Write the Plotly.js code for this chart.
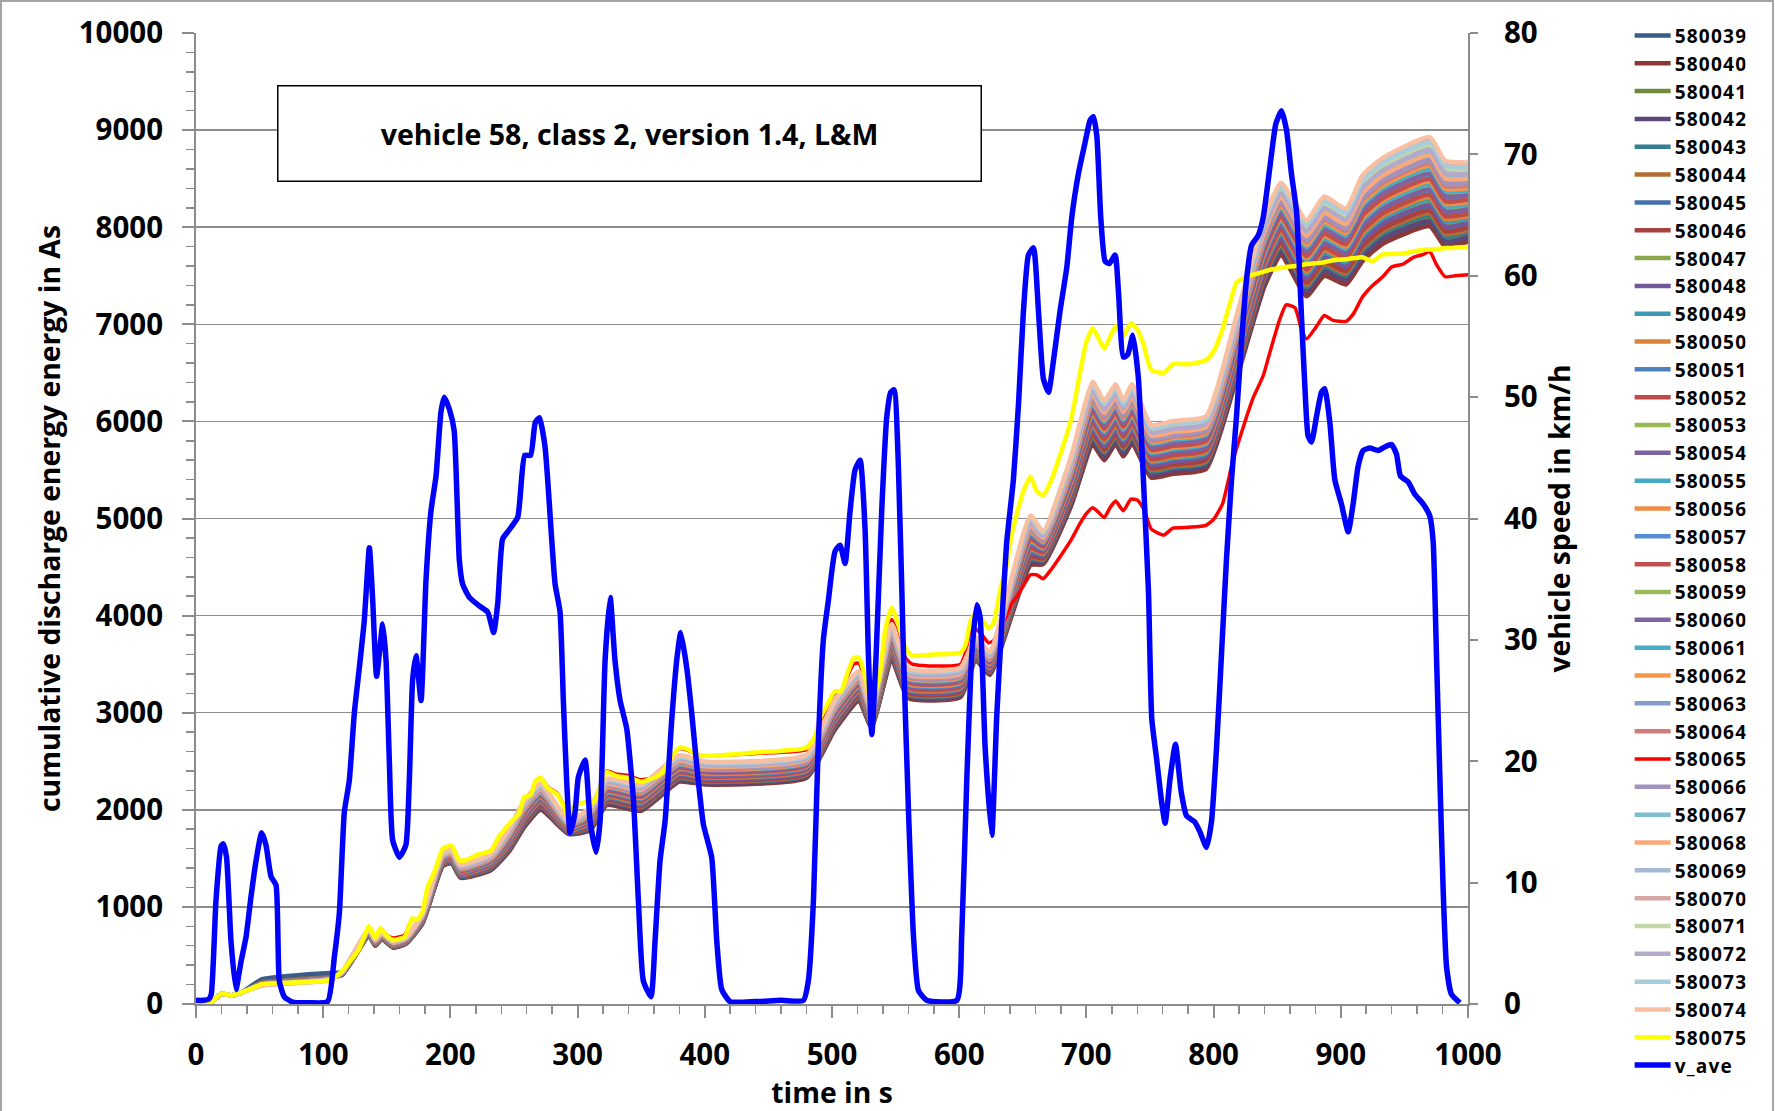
<!DOCTYPE html>
<html><head><meta charset="utf-8">
<script src="https://cdn.plot.ly/plotly-3.0.1.min.js"></script>
<style>
html,body{margin:0;padding:0;background:#fff}
#wrap{position:relative;width:1775px;height:1111px}
#chart{width:1775px;height:1111px}
#frame{position:absolute;left:0;top:0;width:1774px;height:1111px;border-left:2px solid #a6a6a6;border-top:2px solid #a6a6a6;border-right:2px solid #a6a6a6;box-sizing:border-box;pointer-events:none}
#chart .legend .legendtext{letter-spacing:1.2px}
#chart .legend .legendlines path{d:path("M-13,0h49")}
</style>
</head><body>
<div id="wrap"><div id="chart"></div><div id="frame"></div></div>
<script>
// time grid shared by the 35 band series (s)
const tBand = [0,10,20,28,36,52,105,115,136,141,146,155,165,178,194,201,208,232,246,258,271,293,310,323,350,380,400,480,502,521,531,547,560,601,613,624,656,666,688,705,714,723,729,736,751,768,794,818,840,853,873,887,904,917,933,970,982,1000];

// cumulative discharge energy in As
const e580039 = [0,0,105,90,120,255,320,330,702,602,672,582,622,833,1424,1454,1304,1385,1577,1828,2008,1754,1797,2058,1998,2298,2267,2337,2829,3129,2856,3551,3159,3169,3547,3397,4535,4540,5145,5779,5618,5788,5657,5788,5436,5476,5526,6459,7411,7732,7313,7524,7433,7676,7856,8037,7826,7874];
const e580040 = [0,0,105,90,120,225,280,300,700,600,670,580,620,830,1420,1450,1300,1380,1570,1820,2000,1750,1790,2050,1990,2290,2260,2330,2820,3120,2850,3540,3150,3160,3540,3390,4520,4530,5130,5760,5600,5770,5640,5770,5420,5460,5510,6440,7390,7710,7290,7500,7410,7650,7830,8010,7800,7850];
const e580041 = [0,0,105,90,120,222,277,303,706,606,676,586,626,839,1432,1462,1312,1395,1591,1844,2024,1762,1811,2074,2014,2314,2281,2351,2847,3147,2868,3573,3177,3187,3561,3411,4565,4560,5175,5817,5654,5824,5691,5824,5468,5508,5558,6497,7453,7776,7359,7572,7479,7728,7908,8091,7878,7922];
const e580042 = [0,0,105,90,120,223,278,302,704,604,674,584,624,836,1428,1458,1308,1390,1584,1836,2016,1758,1804,2066,2006,2306,2274,2344,2838,3138,2862,3562,3168,3178,3554,3404,4550,4550,5160,5798,5636,5806,5674,5806,5452,5492,5542,6478,7432,7754,7336,7548,7456,7702,7882,8064,7852,7898];
const e580043 = [0,0,105,90,120,221,276,304,708,608,678,588,628,842,1436,1466,1316,1400,1598,1852,2032,1766,1818,2082,2022,2322,2288,2358,2856,3156,2874,3584,3186,3196,3568,3418,4580,4570,5190,5836,5672,5842,5708,5842,5484,5524,5574,6516,7474,7798,7382,7596,7502,7754,7934,8118,7904,7946];
const e580044 = [0,0,105,90,120,220,275,305,710,610,680,590,630,845,1440,1470,1320,1405,1605,1860,2040,1770,1825,2090,2030,2330,2295,2365,2865,3165,2880,3595,3195,3205,3575,3425,4595,4580,5205,5855,5690,5860,5725,5860,5500,5540,5590,6535,7495,7820,7405,7620,7525,7780,7960,8145,7930,7970];
const e580045 = [0,0,105,90,120,218,273,307,714,614,684,594,634,851,1448,1478,1328,1415,1619,1876,2056,1778,1839,2106,2046,2346,2309,2379,2883,3183,2892,3617,3213,3223,3589,3439,4625,4600,5235,5893,5726,5896,5759,5896,5532,5572,5622,6573,7537,7864,7451,7668,7571,7832,8012,8199,7982,8018];
const e580046 = [0,0,105,90,120,219,274,306,712,612,682,592,632,848,1444,1474,1324,1410,1612,1868,2048,1774,1832,2098,2038,2338,2302,2372,2874,3174,2886,3606,3204,3214,3582,3432,4610,4590,5220,5874,5708,5878,5742,5878,5516,5556,5606,6554,7516,7842,7428,7644,7548,7806,7986,8172,7956,7994];
const e580047 = [0,0,105,90,120,216,271,309,718,618,688,598,638,857,1456,1486,1336,1425,1633,1892,2072,1786,1853,2122,2062,2362,2323,2393,2901,3201,2904,3639,3231,3241,3603,3453,4655,4620,5265,5931,5762,5932,5793,5932,5564,5604,5654,6611,7579,7908,7497,7716,7617,7884,8064,8253,8034,8066];
const e580048 = [0,0,105,90,120,217,272,308,716,616,686,596,636,854,1452,1482,1332,1420,1626,1884,2064,1782,1846,2114,2054,2354,2316,2386,2892,3192,2898,3628,3222,3232,3596,3446,4640,4610,5250,5912,5744,5914,5776,5914,5548,5588,5638,6592,7558,7886,7474,7692,7594,7858,8038,8226,8008,8042];
const e580049 = [0,0,105,90,120,215,270,310,720,620,690,600,640,860,1460,1490,1340,1430,1640,1900,2080,1790,1860,2130,2070,2370,2330,2400,2910,3210,2910,3650,3240,3250,3610,3460,4670,4630,5280,5950,5780,5950,5810,5950,5580,5620,5670,6630,7600,7930,7520,7740,7640,7910,8090,8280,8060,8090];
const e580050 = [0,0,105,90,120,214,269,311,722,622,692,602,642,863,1464,1494,1344,1435,1647,1908,2088,1794,1867,2138,2078,2378,2337,2407,2919,3219,2916,3661,3249,3259,3617,3467,4685,4640,5295,5969,5798,5968,5827,5968,5596,5636,5686,6649,7621,7952,7543,7764,7663,7936,8116,8307,8086,8114];
const e580051 = [0,0,105,90,120,212,267,313,726,626,696,606,646,869,1472,1502,1352,1445,1661,1924,2104,1802,1881,2154,2094,2394,2351,2421,2937,3237,2928,3683,3267,3277,3631,3481,4715,4660,5325,6007,5834,6004,5861,6004,5628,5668,5718,6687,7663,7996,7589,7812,7709,7988,8168,8361,8138,8162];
const e580052 = [0,0,105,90,120,213,268,312,724,624,694,604,644,866,1468,1498,1348,1440,1654,1916,2096,1798,1874,2146,2086,2386,2344,2414,2928,3228,2922,3672,3258,3268,3624,3474,4700,4650,5310,5988,5816,5986,5844,5986,5612,5652,5702,6668,7642,7974,7566,7788,7686,7962,8142,8334,8112,8138];
const e580053 = [0,0,105,90,120,210,265,315,730,630,700,610,650,875,1480,1510,1360,1455,1675,1940,2120,1810,1895,2170,2110,2410,2365,2435,2955,3255,2940,3705,3285,3295,3645,3495,4745,4680,5355,6045,5870,6040,5895,6040,5660,5700,5750,6725,7705,8040,7635,7860,7755,8040,8220,8415,8190,8210];
const e580054 = [0,0,105,90,120,211,266,314,728,628,698,608,648,872,1476,1506,1356,1450,1668,1932,2112,1806,1888,2162,2102,2402,2358,2428,2946,3246,2934,3694,3276,3286,3638,3488,4730,4670,5340,6026,5852,6022,5878,6022,5644,5684,5734,6706,7684,8018,7612,7836,7732,8014,8194,8388,8164,8186];
const e580055 = [0,0,105,90,120,209,264,316,732,632,702,612,652,878,1484,1514,1364,1460,1682,1948,2128,1814,1902,2178,2118,2418,2372,2442,2964,3264,2946,3716,3294,3304,3652,3502,4760,4690,5370,6064,5888,6058,5912,6058,5676,5716,5766,6744,7726,8062,7658,7884,7778,8066,8246,8442,8216,8234];
const e580056 = [0,0,105,90,120,208,263,317,734,634,704,614,654,881,1488,1518,1368,1465,1689,1956,2136,1818,1909,2186,2126,2426,2379,2449,2973,3273,2952,3727,3303,3313,3659,3509,4775,4700,5385,6083,5906,6076,5929,6076,5692,5732,5782,6763,7747,8084,7681,7908,7801,8092,8272,8469,8242,8258];
const e580057 = [0,0,105,90,120,206,261,319,738,638,708,618,658,887,1496,1526,1376,1475,1703,1972,2152,1826,1923,2202,2142,2442,2393,2463,2991,3291,2964,3749,3321,3331,3673,3523,4805,4720,5415,6121,5942,6112,5963,6112,5724,5764,5814,6801,7789,8128,7727,7956,7847,8144,8324,8523,8294,8306];
const e580058 = [0,0,105,90,120,207,262,318,736,636,706,616,656,884,1492,1522,1372,1470,1696,1964,2144,1822,1916,2194,2134,2434,2386,2456,2982,3282,2958,3738,3312,3322,3666,3516,4790,4710,5400,6102,5924,6094,5946,6094,5708,5748,5798,6782,7768,8106,7704,7932,7824,8118,8298,8496,8268,8282];
const e580059 = [0,0,105,90,120,204,259,321,742,642,712,622,662,893,1504,1534,1384,1485,1717,1988,2168,1834,1937,2218,2158,2458,2407,2477,3009,3309,2976,3771,3339,3349,3687,3537,4835,4740,5445,6159,5978,6148,5997,6148,5756,5796,5846,6839,7831,8172,7773,8004,7893,8196,8376,8577,8346,8354];
const e580060 = [0,0,105,90,120,205,260,320,740,640,710,620,660,890,1500,1530,1380,1480,1710,1980,2160,1830,1930,2210,2150,2450,2400,2470,3000,3300,2970,3760,3330,3340,3680,3530,4820,4730,5430,6140,5960,6130,5980,6130,5740,5780,5830,6820,7810,8150,7750,7980,7870,8170,8350,8550,8320,8330];
const e580061 = [0,0,105,90,120,203,258,322,744,644,714,624,664,896,1508,1538,1388,1490,1724,1996,2176,1838,1944,2226,2166,2466,2414,2484,3018,3318,2982,3782,3348,3358,3694,3544,4850,4750,5460,6178,5996,6166,6014,6166,5772,5812,5862,6858,7852,8194,7796,8028,7916,8222,8402,8604,8372,8378];
const e580062 = [0,0,105,90,120,202,257,323,746,646,716,626,666,899,1512,1542,1392,1495,1731,2004,2184,1842,1951,2234,2174,2474,2421,2491,3027,3327,2988,3793,3357,3367,3701,3551,4865,4760,5475,6197,6014,6184,6031,6184,5788,5828,5878,6877,7873,8216,7819,8052,7939,8248,8428,8631,8398,8402];
const e580063 = [0,0,105,90,120,199,254,326,752,652,722,632,672,908,1524,1554,1404,1510,1752,2028,2208,1854,1972,2258,2198,2498,2442,2512,3054,3354,3006,3826,3384,3394,3722,3572,4910,4790,5520,6254,6068,6238,6082,6238,5836,5876,5926,6934,7936,8282,7888,8124,8008,8326,8506,8712,8476,8474];
const e580064 = [0,0,105,90,120,201,256,324,748,648,718,628,668,902,1516,1546,1396,1500,1738,2012,2192,1846,1958,2242,2182,2482,2428,2498,3036,3336,2994,3804,3366,3376,3708,3558,4880,4770,5490,6216,6032,6202,6048,6202,5804,5844,5894,6896,7894,8238,7842,8076,7962,8274,8454,8658,8424,8426];
const e580066 = [0,0,105,90,120,200,255,325,750,650,720,630,670,905,1520,1550,1400,1505,1745,2020,2200,1850,1965,2250,2190,2490,2435,2505,3045,3345,3000,3815,3375,3385,3715,3565,4895,4780,5505,6235,6050,6220,6065,6220,5820,5860,5910,6915,7915,8260,7865,8100,7985,8300,8480,8685,8450,8450];
const e580067 = [0,0,105,90,120,197,252,328,756,656,726,636,676,914,1532,1562,1412,1520,1766,2044,2224,1862,1986,2274,2214,2514,2456,2526,3072,3372,3018,3848,3402,3412,3736,3586,4940,4810,5550,6292,6104,6274,6116,6274,5868,5908,5958,6972,7978,8326,7934,8172,8054,8378,8558,8766,8528,8522];
const e580068 = [0,0,105,90,120,198,253,327,754,654,724,634,674,911,1528,1558,1408,1515,1759,2036,2216,1858,1979,2266,2206,2506,2449,2519,3063,3363,3012,3837,3393,3403,3729,3579,4925,4800,5535,6273,6086,6256,6099,6256,5852,5892,5942,6953,7957,8304,7911,8148,8031,8352,8532,8739,8502,8498];
const e580069 = [0,0,105,90,120,195,250,330,760,660,730,640,680,920,1540,1570,1420,1530,1780,2060,2240,1870,2000,2290,2230,2530,2470,2540,3090,3390,3030,3870,3420,3430,3750,3600,4970,4830,5580,6330,6140,6310,6150,6310,5900,5940,5990,7010,8020,8370,7980,8220,8100,8430,8610,8820,8580,8570];
const e580070 = [0,0,105,90,120,192,247,333,766,666,736,646,686,929,1552,1582,1432,1545,1801,2084,2264,1882,2021,2314,2254,2554,2491,2561,3117,3417,3048,3903,3447,3457,3771,3621,5015,4860,5625,6387,6194,6364,6201,6364,5948,5988,6038,7067,8083,8436,8049,8292,8169,8508,8688,8901,8658,8642];
const e580071 = [0,0,105,90,120,194,249,331,762,662,732,642,682,923,1544,1574,1424,1535,1787,2068,2248,1874,2007,2298,2238,2538,2477,2547,3099,3399,3036,3881,3429,3439,3757,3607,4985,4840,5595,6349,6158,6328,6167,6328,5916,5956,6006,7029,8041,8392,8003,8244,8123,8456,8636,8847,8606,8594];
const e580072 = [0,0,105,90,120,196,251,329,758,658,728,638,678,917,1536,1566,1416,1525,1773,2052,2232,1866,1993,2282,2222,2522,2463,2533,3081,3381,3024,3859,3411,3421,3743,3593,4955,4820,5565,6311,6122,6292,6133,6292,5884,5924,5974,6991,7999,8348,7957,8196,8077,8404,8584,8793,8554,8546];
const e580073 = [0,0,105,90,120,193,248,332,764,664,734,644,684,926,1548,1578,1428,1540,1794,2076,2256,1878,2014,2306,2246,2546,2484,2554,3108,3408,3042,3892,3438,3448,3764,3614,5000,4850,5610,6368,6176,6346,6184,6346,5932,5972,6022,7048,8062,8414,8026,8268,8146,8482,8662,8874,8632,8618];
const e580074 = [0,0,105,90,120,191,246,334,768,668,738,648,688,932,1556,1586,1436,1550,1808,2092,2272,1886,2028,2322,2262,2562,2498,2568,3126,3426,3054,3914,3456,3466,3778,3628,5030,4870,5640,6406,6212,6382,6218,6382,5964,6004,6054,7086,8104,8458,8072,8316,8192,8534,8714,8928,8684,8666];

// the two outlying series (red 580065, yellow 580075) on a finer time grid
const tOut = [0,10,20,28,36,44,52,105,115,128,136,141,145,150,155,164,170,174,178,182,188,194,201,207,212,222,232,238,246,254,258,263,267,271,277,284,289,293,298,307,313,319,323,330,340,350,360,367,374,380,387,396,412,440,480,486,491,497,502,507,512,517,521,526,531,537,542,547,552,558,563,580,601,605,609,613,618,623,627,632,637,641,646,651,656,661,666,672,680,688,695,700,705,709,714,719,723,729,735,740,745,751,761,768,781,794,800,807,814,818,826,831,839,844,852,857,864,869,873,881,887,894,904,910,917,925,933,940,949,957,965,970,975,982,990,1000];
const e580065 = [0,0,105,90,120,160,205,245,335,555,790,680,780,710,680,710,880,870,950,1190,1370,1590,1620,1480,1480,1540,1580,1720,1850,1960,2130,2150,2300,2330,2230,2170,2050,1930,2050,2080,2090,2290,2400,2370,2350,2310,2330,2390,2550,2630,2610,2560,2560,2580,2620,2720,2920,3070,3200,3200,3370,3500,3510,3350,3090,3320,3800,3960,3800,3560,3500,3480,3500,3620,3850,3860,3800,3720,3740,3880,3990,4120,4210,4320,4420,4420,4380,4470,4620,4780,4950,5050,5110,5070,5010,5120,5180,5080,5200,5190,5100,4890,4830,4900,4910,4930,4990,5150,5530,5720,6050,6240,6470,6700,7050,7200,7170,6950,6850,6980,7090,7040,7030,7110,7280,7400,7490,7590,7620,7690,7720,7750,7620,7490,7500,7510];
const e580075 = [0,0,105,90,120,160,205,245,340,560,800,680,780,700,660,690,880,870,950,1200,1380,1600,1630,1480,1480,1540,1580,1720,1850,1960,2130,2150,2300,2330,2220,2160,2040,1920,2040,2080,2080,2290,2390,2350,2330,2290,2330,2390,2550,2640,2620,2560,2560,2590,2640,2740,2950,3100,3220,3220,3400,3560,3570,3380,3120,3350,3860,4080,3920,3660,3590,3600,3620,3700,3950,4020,3960,3870,3920,4250,4500,4820,5080,5300,5430,5280,5240,5380,5680,6020,6500,6820,6960,6870,6750,6880,6980,6880,7010,6950,6790,6530,6500,6590,6590,6630,6720,6950,7270,7430,7490,7510,7540,7560,7580,7590,7600,7610,7620,7630,7640,7660,7670,7680,7690,7650,7720,7725,7730,7750,7765,7770,7775,7785,7790,7795];

// average vehicle speed in km/h
const tSpeed = [0,5,10,12,15.7,19.7,21.5,24,27.5,31.4,35.4,39.3,43.2,47.2,51.6,55,59,62.9,65.5,69.4,76,90,103.5,108.8,112.7,116.6,120.5,124.5,128.4,132.3,136.3,138.9,142,146.8,149.4,152,154.6,159.9,165,167.7,170.3,173,176.9,180.8,184.7,188.7,192.6,195.2,199.2,203,207,209.6,214.9,222.7,229.3,234,237.2,241,245,252.9,258.4,263,266.7,270,274.4,279.7,282.3,286.2,288.8,291.4,294.1,298,300.6,305.9,309.8,314.5,317.7,321.6,325.6,329.4,333.4,338.6,343.9,347.8,351.7,357.7,360.9,364.8,368.8,374,377.9,381.1,385.8,389.7,393.6,398.9,405.4,409.4,413.3,419.9,440,460,477.5,481.4,485.4,489.3,493.2,497.2,502.4,506.3,510.3,514.2,518.1,522.1,526,528.6,531.3,534.7,539.1,543.1,546.2,548.8,552.2,556.2,560.1,564,568,574.5,598.1,602,606,609.9,613.8,616.4,620.4,625.6,629.5,633.5,637.4,642.6,646.6,650.5,654.4,658.4,662.3,666.2,670.2,674.1,679.3,684.6,688.5,693.7,699,702.9,705.5,708.2,711.3,714.7,718.1,722.6,725.2,729.1,732.5,736.5,740.9,744.8,748.8,751.4,755.3,759.3,761.9,765.8,770,774.5,778.7,785.2,789.2,794.4,798.3,802.3,806.2,810.1,814.1,818,822,825.9,829.8,835,839,844.2,848.9,853.4,857.3,861.2,865.2,869.1,871.7,874.3,877,880.9,884.8,887.4,891.4,895.3,900.5,905.8,909.7,913.6,917.6,922.8,929.4,934.6,939.9,943.8,946.9,953,958.2,964.7,970,972.6,975.2,977.9,980.5,983.1,987,993.6];
const vAve = [0.3,0.3,0.4,0.8,8.5,13.0,13.2,12.1,5.2,1.2,3.5,5.5,8.8,11.8,14.1,13.1,10.5,9.8,1.9,0.6,0.15,0.1,0.2,3.9,7.5,15.8,18.4,24,27.7,31.6,37.6,33.3,27,31.3,28.3,20,13.5,12.1,13.1,18.4,26.7,28.7,25,34.9,40.6,43.5,48.8,50,49,47.2,36.6,34.6,33.5,32.8,32.3,30.6,33,38.3,38.9,40.1,45.2,45.2,47.9,48.3,45.9,38.2,34.6,32.3,25,18.4,14.1,15.8,18.7,20.1,15.1,12.5,15.1,28.3,33.5,28.3,25,22.7,16.8,8.5,1.9,0.6,5.2,11.8,15.1,23.4,28.3,30.6,27.7,24,19.7,14.8,12.1,5.2,1.2,0.2,0.2,0.3,0.3,1.9,8.5,21.7,30,33.3,37.3,37.8,36.3,40.6,44,44.8,39.1,28.8,22.2,28.8,40.7,48.4,50.4,50.6,44.3,28.8,16,5.7,1.1,0.3,0.3,5.7,18.6,28.8,32.9,31.9,21.1,13.9,23.7,31.4,38.1,43.2,49.4,57.1,61.7,62.3,57.1,51.5,50.4,53,57.1,60.7,64.8,68.4,71,72.8,73.1,71.5,64.8,61.2,61,61.7,58.7,53.3,53.5,55.1,51.5,43.2,34,23.5,20.1,16.5,14.9,18.6,21.4,17.5,15.5,15,14.2,12.9,15,21.1,28.8,36.6,43.2,48.4,54.6,59.7,62.5,63.3,64.8,68.9,72.5,73.6,72,68.4,65.3,56.6,51,46.8,46.3,48.4,50.4,50.7,47.9,43.2,41.2,38.9,41.2,44.3,45.6,45.8,45.6,45.9,46.1,45.3,43.5,43,42,41.2,40.2,38.1,28.8,18.6,9.3,3.1,0.8,0.1];

const seriesNames = ['580039','580040','580041','580042','580043','580044','580045','580046','580047','580048','580049','580050','580051','580052','580053','580054','580055','580056','580057','580058','580059','580060','580061','580062','580063','580064','580065','580066','580067','580068','580069','580070','580071','580072','580073','580074','580075'];
const seriesColors = ['#385D8A','#8C3836','#71893F','#5C4776','#357D91','#B66D31','#4672AA','#A9423F','#8AA74C','#72589A','#3E9AB3','#DB8236','#4F81BD','#BE4B48','#98B954','#7D60A0','#46AAC5','#EE8D45','#558ED5','#C0504D','#9BBB59','#8064A2','#4BACC6','#F79646','#829CCB','#CD7E7C','#FF0000','#A193BE','#7EBDD2','#F9A97B','#A6B7D8','#D8A6A5','#C3D6A5','#B5A9C9','#A7CDDB','#F9BFA1','#FFFF00'];
const energy = {
 '580039':e580039,'580040':e580040,'580041':e580041,'580042':e580042,'580043':e580043,'580044':e580044,
 '580045':e580045,'580046':e580046,'580047':e580047,'580048':e580048,'580049':e580049,'580050':e580050,
 '580051':e580051,'580052':e580052,'580053':e580053,'580054':e580054,'580055':e580055,'580056':e580056,
 '580057':e580057,'580058':e580058,'580059':e580059,'580060':e580060,'580061':e580061,'580062':e580062,
 '580063':e580063,'580064':e580064,'580065':e580065,'580066':e580066,'580067':e580067,'580068':e580068,
 '580069':e580069,'580070':e580070,'580071':e580071,'580072':e580072,'580073':e580073,'580074':e580074,
 '580075':e580075
};

const FONT = 'Open Sans, Noto Sans, DejaVu Sans, sans-serif';
const traces = seriesNames.map((n, i) => {
  const outlier = (n === '580065' || n === '580075');
  return {
    type: 'scatter', mode: 'lines', name: n,
    x: outlier ? tOut : tBand, y: energy[n],
    line: {color: seriesColors[i], width: n === '580065' ? 3.5 : 4.5, shape: 'spline', smoothing: 0.5},
    hoverinfo: 'skip'
  };
});
traces.push({
  type: 'scatter', mode: 'lines', name: 'v_ave', x: tSpeed, y: vAve, yaxis: 'y2',
  line: {color: '#0000FF', width: 5.5, shape: 'spline', smoothing: 0.5}, hoverinfo: 'skip'
});

const tickFont = {family: FONT, size: 29.5, weight: 700, color: '#000'};
const titleFont = {family: FONT, size: 28.3, weight: 700, color: '#000'};
const GRAY = '#8c8c8c';
const layout = {
  width: 1775, height: 1111,
  margin: {l: 196, r: 307, t: 33, b: 107},
  paper_bgcolor: '#fff', plot_bgcolor: '#fff',
  showlegend: true,
  legend: {x: 1.131, y: 1.017, xanchor: 'left', yanchor: 'top', maxheight: 1111,
    font: {family: FONT, size: 19.1, weight: 700, color: '#000'},
    bgcolor: 'rgba(0,0,0,0)', borderwidth: 0, tracegroupgap: 0},
  xaxis: {range: [0, 1000], dtick: 100, tick0: 0, showgrid: false, zeroline: false,
    showline: true, linecolor: GRAY, linewidth: 2,
    ticks: 'outside', ticklen: 12, tickwidth: 2, tickcolor: GRAY, ticklabelstandoff: 12,
    minor: {dtick: 20, ticks: 'outside', ticklen: 8, tickwidth: 1.5, tickcolor: GRAY, showgrid: false},
    tickfont: tickFont,
    title: {text: 'time in s', font: titleFont, standoff: 10}},
  // inner halves of the crossing tick marks
  xaxis2: {overlaying: 'x', anchor: 'y', side: 'bottom', range: [0, 1000], dtick: 100, tick0: 0,
    showgrid: false, zeroline: false, showline: false, showticklabels: false,
    ticks: 'inside', ticklen: 11, tickwidth: 2, tickcolor: GRAY},
  yaxis: {range: [0, 10000], dtick: 1000, tick0: 0, tickformat: 'd', showgrid: true, gridcolor: GRAY, gridwidth: 1.5,
    zeroline: false, showline: true, linecolor: GRAY, linewidth: 2,
    ticks: 'outside', ticklen: 12, tickwidth: 2, tickcolor: GRAY, ticklabelstandoff: 13,
    minor: {dtick: 200, ticks: 'outside', ticklen: 8, tickwidth: 1.5, tickcolor: GRAY, showgrid: false},
    tickfont: tickFont,
    title: {text: 'cumulative discharge energy energy in As', font: titleFont, standoff: 10}},
  yaxis3: {overlaying: 'y', anchor: 'x', side: 'left', range: [0, 10000], dtick: 1000, tick0: 0,
    showgrid: false, zeroline: false, showline: false, showticklabels: false,
    ticks: 'inside', ticklen: 11, tickwidth: 2, tickcolor: GRAY,
    minor: {dtick: 200, ticks: 'inside', ticklen: 8, tickwidth: 1.5, tickcolor: GRAY, showgrid: false}},
  yaxis2: {overlaying: 'y', side: 'right', range: [0, 80], dtick: 10, tick0: 0,
    showgrid: false, zeroline: false, showline: true, linecolor: GRAY, linewidth: 2,
    ticks: 'outside', ticklen: 8, tickwidth: 2, tickcolor: GRAY, ticklabelstandoff: 20,
    tickfont: tickFont,
    title: {text: 'vehicle speed in km/h', font: titleFont, standoff: 14}},
  annotations: [{
    text: 'vehicle 58, class 2, version 1.4, L&amp;M', xref: 'paper', yref: 'paper',
    x: 0.3408, y: 0.897, xanchor: 'center', yanchor: 'middle', showarrow: false,
    font: {family: FONT, size: 28.5, weight: 700, color: '#000'},
    bgcolor: '#fff', bordercolor: '#000', borderwidth: 1.5, width: 700, height: 92
  }]
};
Plotly.newPlot('chart', traces, layout, {displayModeBar: false, staticPlot: true});
</script>
</body></html>
